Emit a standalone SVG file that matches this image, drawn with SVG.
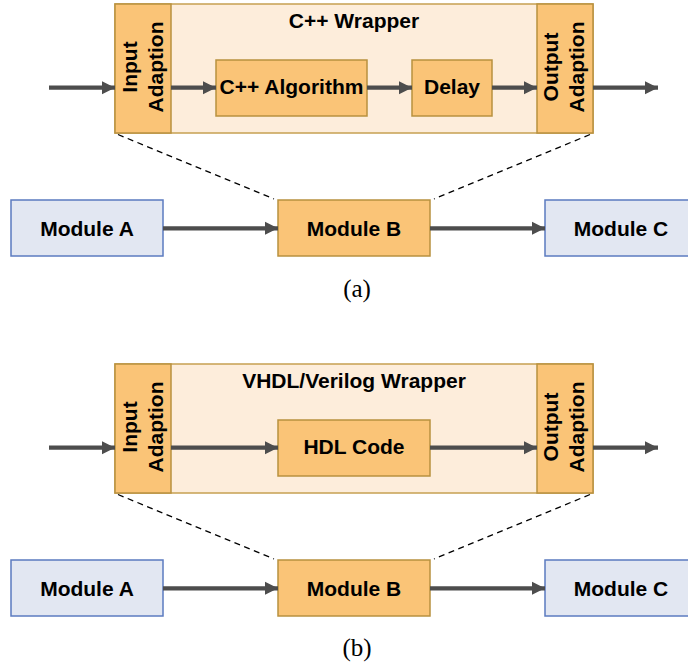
<svg xmlns="http://www.w3.org/2000/svg" width="688" height="666" viewBox="0 0 688 666">
<defs>
<style>
.wrap{fill:#FDEDDB;stroke:#C6A052;stroke-width:1.5}
.org{fill:#FAC477;stroke:#B8913F;stroke-width:1.5}
.blue{fill:#E2E7F2;stroke:#5B7BC0;stroke-width:1.5}
.t{font-family:"Liberation Sans",Arial,Helvetica,sans-serif;font-weight:bold;font-size:21px;fill:#000;text-anchor:middle}
.cap{font-family:"Liberation Serif","Times New Roman",serif;font-size:25px;fill:#000;text-anchor:middle}
.arr{stroke:#4D4D4D;stroke-width:4.3;fill:none;marker-end:url(#ah)}
.dash{stroke:#000;stroke-width:1.3;stroke-dasharray:6 4.5;fill:none}
</style>
<marker id="ah" markerUnits="userSpaceOnUse" markerWidth="14" markerHeight="14" viewBox="0 0 14 14" refX="13" refY="7" orient="auto">
<path d="M0,0.5 L13,7 L0,13.5 Z" fill="#4D4D4D"/>
</marker>
</defs>

<!-- (a) -->
<g id="wrapperA">
<rect class="wrap" x="115" y="4" width="478" height="129"/>
<text class="t" x="354" y="27.5">C++ Wrapper</text>
</g>
<g id="inputA">
<rect class="org" x="115" y="4" width="56" height="129"/>
<text class="t" transform="translate(137,67) rotate(-90)">Input</text>
<text class="t" transform="translate(163,67) rotate(-90)">Adaption</text>
</g>
<g id="outputA">
<rect class="org" x="537" y="4" width="56" height="129"/>
<text class="t" transform="translate(558,67) rotate(-90)">Output</text>
<text class="t" transform="translate(584,67) rotate(-90)">Adaption</text>
</g>
<g id="algo">
<rect class="org" x="216" y="60" width="151" height="56"/>
<text class="t" x="291.5" y="93.5">C++ Algorithm</text>
</g>
<g id="delay">
<rect class="org" x="412" y="60" width="80" height="56"/>
<text class="t" x="452" y="93.5">Delay</text>
</g>
<g id="modA_a">
<rect class="blue" x="11" y="200" width="152" height="56"/>
<text class="t" x="87" y="235.5">Module A</text>
</g>
<g id="modB_a">
<rect class="org" x="278" y="200" width="152" height="56"/>
<text class="t" x="354" y="235.5">Module B</text>
</g>
<g id="modC_a">
<rect class="blue" x="545" y="200" width="152" height="56"/>
<text class="t" x="621" y="235.5">Module C</text>
</g>
<text class="cap" x="357" y="297">(a)</text>

<!-- (b) -->
<g id="wrapperB">
<rect class="wrap" x="115" y="364" width="478" height="129"/>
<text class="t" x="354" y="387.5">VHDL/Verilog Wrapper</text>
</g>
<g id="inputB">
<rect class="org" x="115" y="364" width="56" height="129"/>
<text class="t" transform="translate(137,427) rotate(-90)">Input</text>
<text class="t" transform="translate(163,427) rotate(-90)">Adaption</text>
</g>
<g id="outputB">
<rect class="org" x="537" y="364" width="56" height="129"/>
<text class="t" transform="translate(558,427) rotate(-90)">Output</text>
<text class="t" transform="translate(584,427) rotate(-90)">Adaption</text>
</g>
<g id="hdl">
<rect class="org" x="278" y="420" width="152" height="56"/>
<text class="t" x="354" y="453.5">HDL Code</text>
</g>
<g id="modA_b">
<rect class="blue" x="11" y="560" width="152" height="56"/>
<text class="t" x="87" y="595.5">Module A</text>
</g>
<g id="modB_b">
<rect class="org" x="278" y="560" width="152" height="56"/>
<text class="t" x="354" y="595.5">Module B</text>
</g>
<g id="modC_b">
<rect class="blue" x="545" y="560" width="152" height="56"/>
<text class="t" x="621" y="595.5">Module C</text>
</g>
<text class="cap" x="357" y="656">(b)</text>

<g id="connectors">
<line class="arr" x1="49" y1="87.7" x2="115" y2="87.7"/>
<line class="arr" x1="171" y1="87.7" x2="216" y2="87.7"/>
<line class="arr" x1="367" y1="87.7" x2="412" y2="87.7"/>
<line class="arr" x1="492" y1="87.7" x2="537" y2="87.7"/>
<line class="arr" x1="593" y1="87.7" x2="658" y2="87.7"/>
<line class="arr" x1="163" y1="228.3" x2="278" y2="228.3"/>
<line class="arr" x1="430" y1="228.3" x2="545" y2="228.3"/>
<line class="dash" x1="118" y1="134.5" x2="274" y2="199"/>
<line class="dash" x1="590" y1="134.5" x2="434" y2="199"/>

<line class="arr" x1="49" y1="447.7" x2="115" y2="447.7"/>
<line class="arr" x1="171" y1="447.7" x2="278" y2="447.7"/>
<line class="arr" x1="430" y1="447.7" x2="537" y2="447.7"/>
<line class="arr" x1="593" y1="447.7" x2="658" y2="447.7"/>
<line class="arr" x1="163" y1="588.3" x2="278" y2="588.3"/>
<line class="arr" x1="430" y1="588.3" x2="545" y2="588.3"/>
<line class="dash" x1="118" y1="494.5" x2="274" y2="559"/>
<line class="dash" x1="590" y1="494.5" x2="434" y2="559"/>
</g>
</svg>
